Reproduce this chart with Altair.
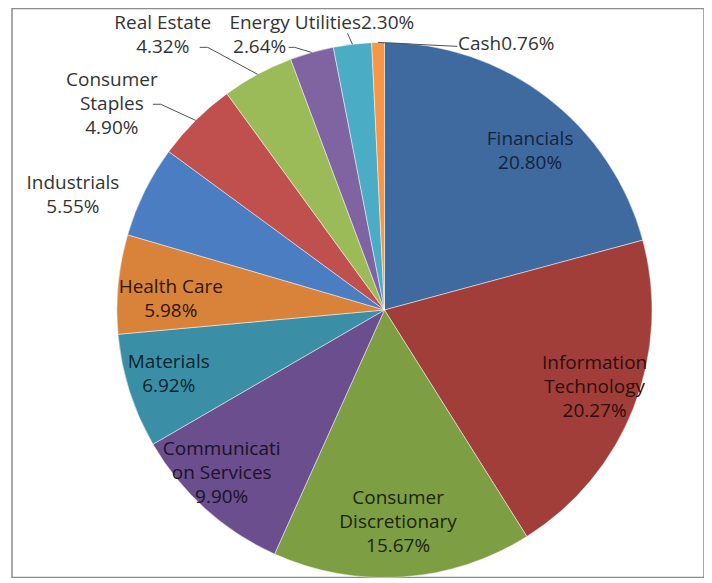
import altair as alt
import pandas as pd

# ---- data ----
sectors = ["Financials", "Information Technology", "Consumer Discretionary",
           "Communication Services", "Materials", "Health Care", "Industrials",
           "Consumer Staples", "Real Estate", "Energy", "Utilities", "Cash"]
weights = [20.80, 20.27, 15.67, 9.90, 6.92, 5.98, 5.55, 4.90, 4.32, 2.64, 2.30, 0.76]
# names as wrapped in the reference labels
label_names = ["Financials", "Information\nTechnology", "Consumer\nDiscretionary",
               "Communicati\non Services", "Materials", "Health Care", "Industrials",
               "Consumer\nStaples", "Real Estate", "Energy", "Utilities", "Cash"]
label_joins = ["\n"] * 10 + ["", ""]

slice_colors = ["#3F6AA0", "#A23E3A", "#7E9E44", "#6A4E8E", "#3A8FA7", "#D9823A",
                "#4A7DC2", "#C0504D", "#9BBB59", "#8064A2", "#4BACC6", "#F79646"]
inside_text_colors = ["#13233B", "#2E0D0C", "#1B240A", "#1A1226", "#0A242C", "#2E1704"]

df = pd.DataFrame({
    "sector": sectors,
    "weight": weights,
    "order": list(range(len(sectors))),
    "label": [n + j + f"{w:.2f}%" for n, j, w in zip(label_names, label_joins, weights)],
})

# ---- layout (chart coordinates; the view starts at page x=12, y=8) ----
CX, CY, R = 373, 302, 268
FONT = "Open Sans"
FS = 19
LH = 24
LABEL_R = 212

base = alt.Chart(df)

pie = base.mark_arc(outerRadius=R, stroke="#ffffff", strokeWidth=0.8, strokeOpacity=0.6).encode(
    theta=alt.Theta("weight:Q", stack=True),
    order=alt.Order("order:Q"),
    color=alt.Color("sector:N", scale=alt.Scale(domain=sectors, range=slice_colors), legend=None),
    x=alt.value(CX),
    y=alt.value(CY),
)

calc = (base
        .transform_joinaggregate(total="sum(weight)")
        .transform_window(cum="sum(weight)", sort=[alt.SortField("order")], frame=[None, 0])
        .transform_calculate(mid="(datum.cum - datum.weight/2) / datum.total * 2 * PI"))

# inside labels: placed at the slice mid-angle, with small nudges (dx, dy)
inside_nudge = {
    "Financials": (17, 9),
    "Information Technology": (13, 0),
    "Consumer Discretionary": (-1, 1),
    "Communication Services": (-21, 6),
    "Materials": (-14, 0),
    "Health Care": (-3, 10),
}

layers = [pie]
for (s, (ndx, ndy)), tc in zip(inside_nudge.items(), inside_text_colors):
    n_lines = label_names[sectors.index(s)].count("\n") + 2
    layers.append(
        calc.transform_filter(alt.datum.sector == s)
        .mark_text(radius=LABEL_R, font=FONT, fontSize=FS, lineBreak="\n", lineHeight=LH,
                   align="center", baseline="middle", color=tc,
                   dx=ndx, dy=ndy - (n_lines - 1) * LH / 2)
        .encode(theta=alt.Theta("mid:Q", scale=None, stack=False), text="label:N",
                x=alt.value(CX), y=alt.value(CY))
    )

# outside labels: position of the first text line
outside_text = {
    "Industrials": (61, 175),
    "Consumer Staples": (100, 72),
    "Real Estate": (151, 15),
    "Energy": (248, 15),
    "Utilities": (343, 15),
    "Cash": (495, 36),
}
leaders = {
    # sector: (line end x, line end y, stub start x)
    "Consumer Staples": (149, 96, 141),
    "Real Estate": (196, 39, 188),
    "Energy": (283, 39, 277),
    "Utilities": (336, 25, None),
    "Cash": (446, 38, None),
}

for s, (px, py) in outside_text.items():
    layers.append(
        base.transform_filter(alt.datum.sector == s)
        .mark_text(font=FONT, fontSize=FS, lineBreak="\n", lineHeight=LH,
                   align="center", baseline="middle", color="#333333")
        .encode(text="label:N", x=alt.value(px), y=alt.value(py))
    )

for s, (lx, ly, sx) in leaders.items():
    layers.append(
        calc.transform_filter(alt.datum.sector == s)
        .transform_calculate(ex=f"{CX} + {R} * sin(datum.mid)", ey=f"{CY} - {R} * cos(datum.mid)")
        .mark_rule(color="#505050", strokeWidth=1)
        .encode(x=alt.X("ex:Q", scale=None, axis=None), y=alt.Y("ey:Q", scale=None, axis=None),
                x2=alt.value(lx), y2=alt.value(ly))
    )
    if sx is not None:
        layers.append(
            base.transform_filter(alt.datum.sector == s)
            .mark_rule(color="#505050", strokeWidth=1)
            .encode(x=alt.value(sx), x2=alt.value(lx), y=alt.value(ly))
        )

chart = alt.layer(*layers).properties(
    width=693,
    height=570,
    padding={"left": 4, "top": 0, "right": 0, "bottom": 0},
    autosize=alt.AutoSizeParams(type="none"),
    background="#ffffff",
).configure_view(stroke="#8c8c8c", strokeWidth=1.5)

chart.save("out.html", embed_options={"renderer": "svg", "actions": False})
